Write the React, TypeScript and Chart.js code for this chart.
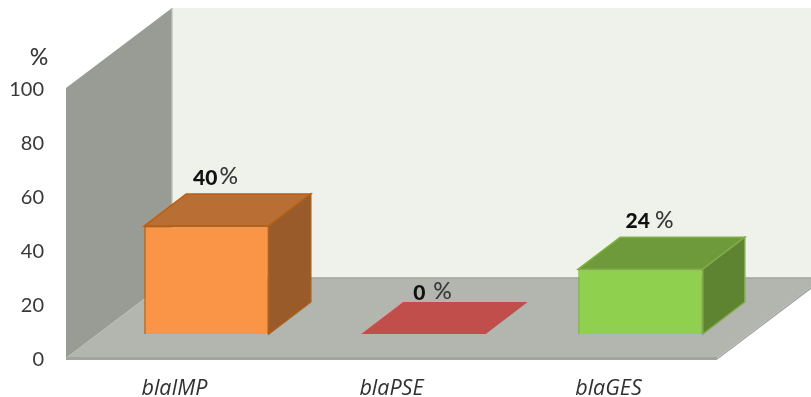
import React, { useEffect, useRef } from "react";
import { Chart, registerables } from "chart.js";

Chart.register(...registerables);

const categories = ["blaIMP", "blaPSE", "blaGES"];
const percentages = [40, 0, 24];
const yTicks = [0, 20, 40, 60, 80, 100];

const frontColors = ["#fa9547", "#c24e4c", "#8fd14f"];
const topColors = ["#b96f34", "#c24e4c", "#6f9a3b"];
const sideColors = ["#985b29", "#c24e4c", "#5f8431"];
const edgeColors = ["#b55e14", "#c24e4c", "#7fae45"];

const FONT = "Lato, 'Open Sans', sans-serif";
const INK = "#383838";

// Tick labels sit slightly below the plane they annotate.
const AXIS_NUDGE = 1.5;
// Room geometry: how far the back plane sits behind the axis plane.
const ROOM_DX = 106;
const ROOM_DY = -80;
// Bars stand part-way back on the floor and have their own depth.
const BAR_SHIFT_X = 32;
const BAR_SHIFT_Y = -24 - AXIS_NUDGE;
const BAR_DX = 42;
const BAR_DY = -32;

function polygon(ctx: CanvasRenderingContext2D, pts: number[][], fill: string, stroke?: string, lw = 1) {
  ctx.beginPath();
  pts.forEach(([x, y], i) => (i ? ctx.lineTo(x, y) : ctx.moveTo(x, y)));
  ctx.closePath();
  ctx.fillStyle = fill;
  ctx.fill();
  if (stroke) {
    ctx.strokeStyle = stroke;
    ctx.lineWidth = lw;
    ctx.stroke();
  }
}

const room3d = {
  id: "room3d",
  beforeDatasetsDraw(chart: any) {
    const { ctx, chartArea, scales } = chart;
    const { left, right } = chartArea;
    const y0 = scales.y.getPixelForValue(0) - AXIS_NUDGE;
    const y100 = scales.y.getPixelForValue(100) - AXIS_NUDGE;
    const bx = left + ROOM_DX;
    const backFloor = y0 + ROOM_DY;
    const backTop = y100 + ROOM_DY;

    ctx.save();
    // back wall
    polygon(ctx, [[bx, backTop], [chart.width, backTop], [chart.width, backFloor], [bx, backFloor]], "#eff2eb");
    // left wall
    polygon(ctx, [[left, y100], [bx, backTop], [bx, backFloor], [left, y0]], "#999b95");
    ctx.fillStyle = "#b0b2ac";
    ctx.fillRect(bx - 1, backTop, 1.5, backFloor - backTop);
    // floor and its front lip
    polygon(ctx, [[left, y0], [right, y0], [right + ROOM_DX, backFloor], [bx, backFloor]], "#b3b5af");
    polygon(ctx, [[left, y0 - 1], [right, y0 - 1], [right, y0 + 2], [left, y0 + 2]], "#a2a49f");
    ctx.strokeStyle = "#a2a49f";
    ctx.lineWidth = 1.5;
    ctx.beginPath();
    ctx.moveTo(right, y0 + 1);
    ctx.lineTo(right + ROOM_DX, backFloor + 1);
    ctx.moveTo(bx, backFloor);
    ctx.lineTo(chart.width, backFloor);
    ctx.stroke();
    ctx.restore();

    // everything the dataset draws from here on stands back on the floor
    ctx.save();
    ctx.translate(BAR_SHIFT_X, BAR_SHIFT_Y);
    chart.getDatasetMeta(0).data.forEach((bar: any, i: number) => {
      const l = bar.x - bar.width / 2;
      const r = bar.x + bar.width / 2;
      const t = bar.y;
      const b = bar.base;
      const flat = percentages[i] === 0;
      const edge = flat ? undefined : edgeColors[i];
      polygon(ctx, [[l, t], [l + BAR_DX, t + BAR_DY], [r + BAR_DX, t + BAR_DY], [r, t]], topColors[i], edge, 1.5);
      if (!flat) {
        polygon(ctx, [[r, t], [r + BAR_DX, t + BAR_DY], [r + BAR_DX, b + BAR_DY], [r, b]], sideColors[i], edge, 1.5);
      }
    });
  },
  afterDatasetsDraw(chart: any) {
    const { ctx } = chart;
    ctx.restore();

    ctx.save();
    ctx.textBaseline = "middle";
    ctx.textAlign = "left";

    chart.getDatasetMeta(0).data.forEach((bar: any, i: number) => {
      const value = String(percentages[i]);
      const gap = percentages[i] === 0 ? 8 : percentages[i] === 40 ? 2 : 5;
      const numFont = `900 21px ${FONT}`;
      const pctFont = `500 23px ${FONT}`;
      ctx.font = numFont;
      const nw = ctx.measureText(value).width;
      ctx.font = pctFont;
      const pw = ctx.measureText("%").width;
      const cx = bar.x + BAR_SHIFT_X + 9;
      const top = bar.y + BAR_SHIFT_Y;
      const y = percentages[i] === 0 ? top - 41 : top - 48;
      const x = cx - (nw + gap + pw) / 2;
      ctx.font = numFont;
      ctx.fillStyle = "#111111";
      ctx.fillText(value, x, y);
      ctx.font = pctFont;
      ctx.fillStyle = INK;
      ctx.fillText("%", x + nw + gap, y - 1);
    });

    // unit above the value axis
    ctx.font = `500 23px ${FONT}`;
    ctx.fillStyle = INK;
    ctx.textAlign = "center";
    ctx.fillText("%", 39, 58);
    ctx.restore();
  },
};

export default function App() {
  const ref = useRef<HTMLCanvasElement>(null);

  useEffect(() => {
    const chart = new Chart(ref.current!, {
      type: "bar",
      data: {
        labels: categories,
        datasets: [
          {
            data: percentages,
            backgroundColor: frontColors,
            borderColor: edgeColors,
            borderWidth: percentages.map((v) => (v === 0 ? 0 : 1.5)),
            barPercentage: 0.574,
            categoryPercentage: 1,
            clip: false as any,
          },
        ],
      },
      options: {
        responsive: false,
        animation: false,
        events: [],
        layout: { padding: { left: 0, top: 88 + AXIS_NUDGE, right: 94, bottom: 0 } },
        plugins: { legend: { display: false }, tooltip: { enabled: false } },
        scales: {
          x: {
            grid: { display: false },
            border: { display: false },
            afterFit: (s: any) => {
              s.height = 39 - AXIS_NUDGE;
            },
            ticks: {
              padding: 8,
              maxRotation: 0,
              color: "#303030",
              font: { family: "'Open Sans', sans-serif", size: 21.5, style: "italic" },
            },
          },
          y: {
            min: 0,
            max: 100,
            grid: { display: false },
            border: { display: false },
            afterFit: (s: any) => {
              s.width = 66;
            },
            afterBuildTicks: (s: any) => {
              s.ticks = yTicks.map((value) => ({ value }));
            },
            ticks: {
              padding: 14,
              color: INK,
              font: { family: FONT, size: 20 },
            },
          },
        },
      },
      plugins: [room3d],
    });
    return () => chart.destroy();
  }, []);

  return (
    <div style={{ position: "absolute", left: 0, top: 0, width: 811, height: 397, overflow: "hidden", background: "#fff" }}>
      <canvas ref={ref} width={811} height={397} style={{ display: "block" }} />
    </div>
  );
}
